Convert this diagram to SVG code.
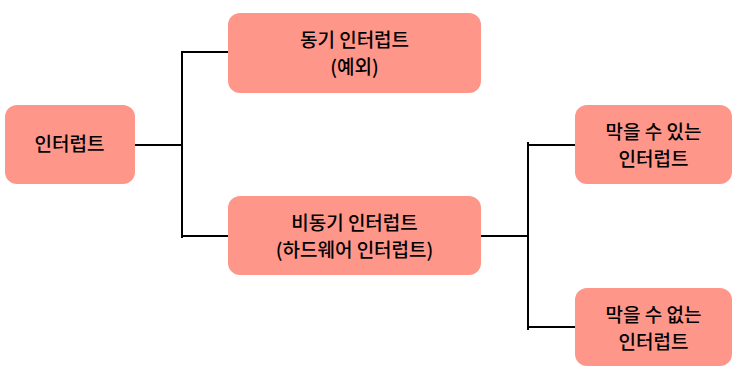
<svg xmlns="http://www.w3.org/2000/svg" width="745" height="384" viewBox="0 0 745 384">
<style>
.box{fill:#FF968A;}
.t{font-family:"Noto Sans CJK KR","Noto Sans",sans-serif;font-size:19px;font-weight:500;fill:#000;text-anchor:middle;}
.c{stroke:#000;stroke-width:2;fill:none;}
</style>
<rect width="745" height="384" fill="#fff"/>
<g id="connectors">
<path class="c" d="M135,145 H182 M182,51 V238 M182,52 H228 M182,236 H228"/>
<path class="c" d="M481,236 H528 M528,142 V330 M528,145 H575 M528,327 H575"/>
</g>
<g id="n-root"><rect class="box" x="5" y="105" width="130" height="79" rx="12"/><text class="t" x="69.5" y="150.5">인터럽트</text></g>
<g id="n-sync"><rect class="box" x="228" y="13" width="253" height="80" rx="12"/><text class="t" x="354.5" y="46.5">동기 인터럽트</text><text class="t" x="354.5" y="73.5">(예외)</text></g>
<g id="n-async"><rect class="box" x="228" y="196" width="253" height="79" rx="12"/><text class="t" x="354.5" y="229.5">비동기 인터럽트</text><text class="t" x="354.5" y="256.5">(하드웨어 인터럽트)</text></g>
<g id="n-mask"><rect class="box" x="575" y="105" width="157" height="79" rx="12"/><text class="t" x="653.5" y="138.5">막을 수 있는</text><text class="t" x="653.5" y="165.5">인터럽트</text></g>
<g id="n-nmi"><rect class="box" x="575" y="288" width="157" height="78" rx="12"/><text class="t" x="653.5" y="321.5">막을 수 없는</text><text class="t" x="653.5" y="348.5">인터럽트</text></g>
</svg>
